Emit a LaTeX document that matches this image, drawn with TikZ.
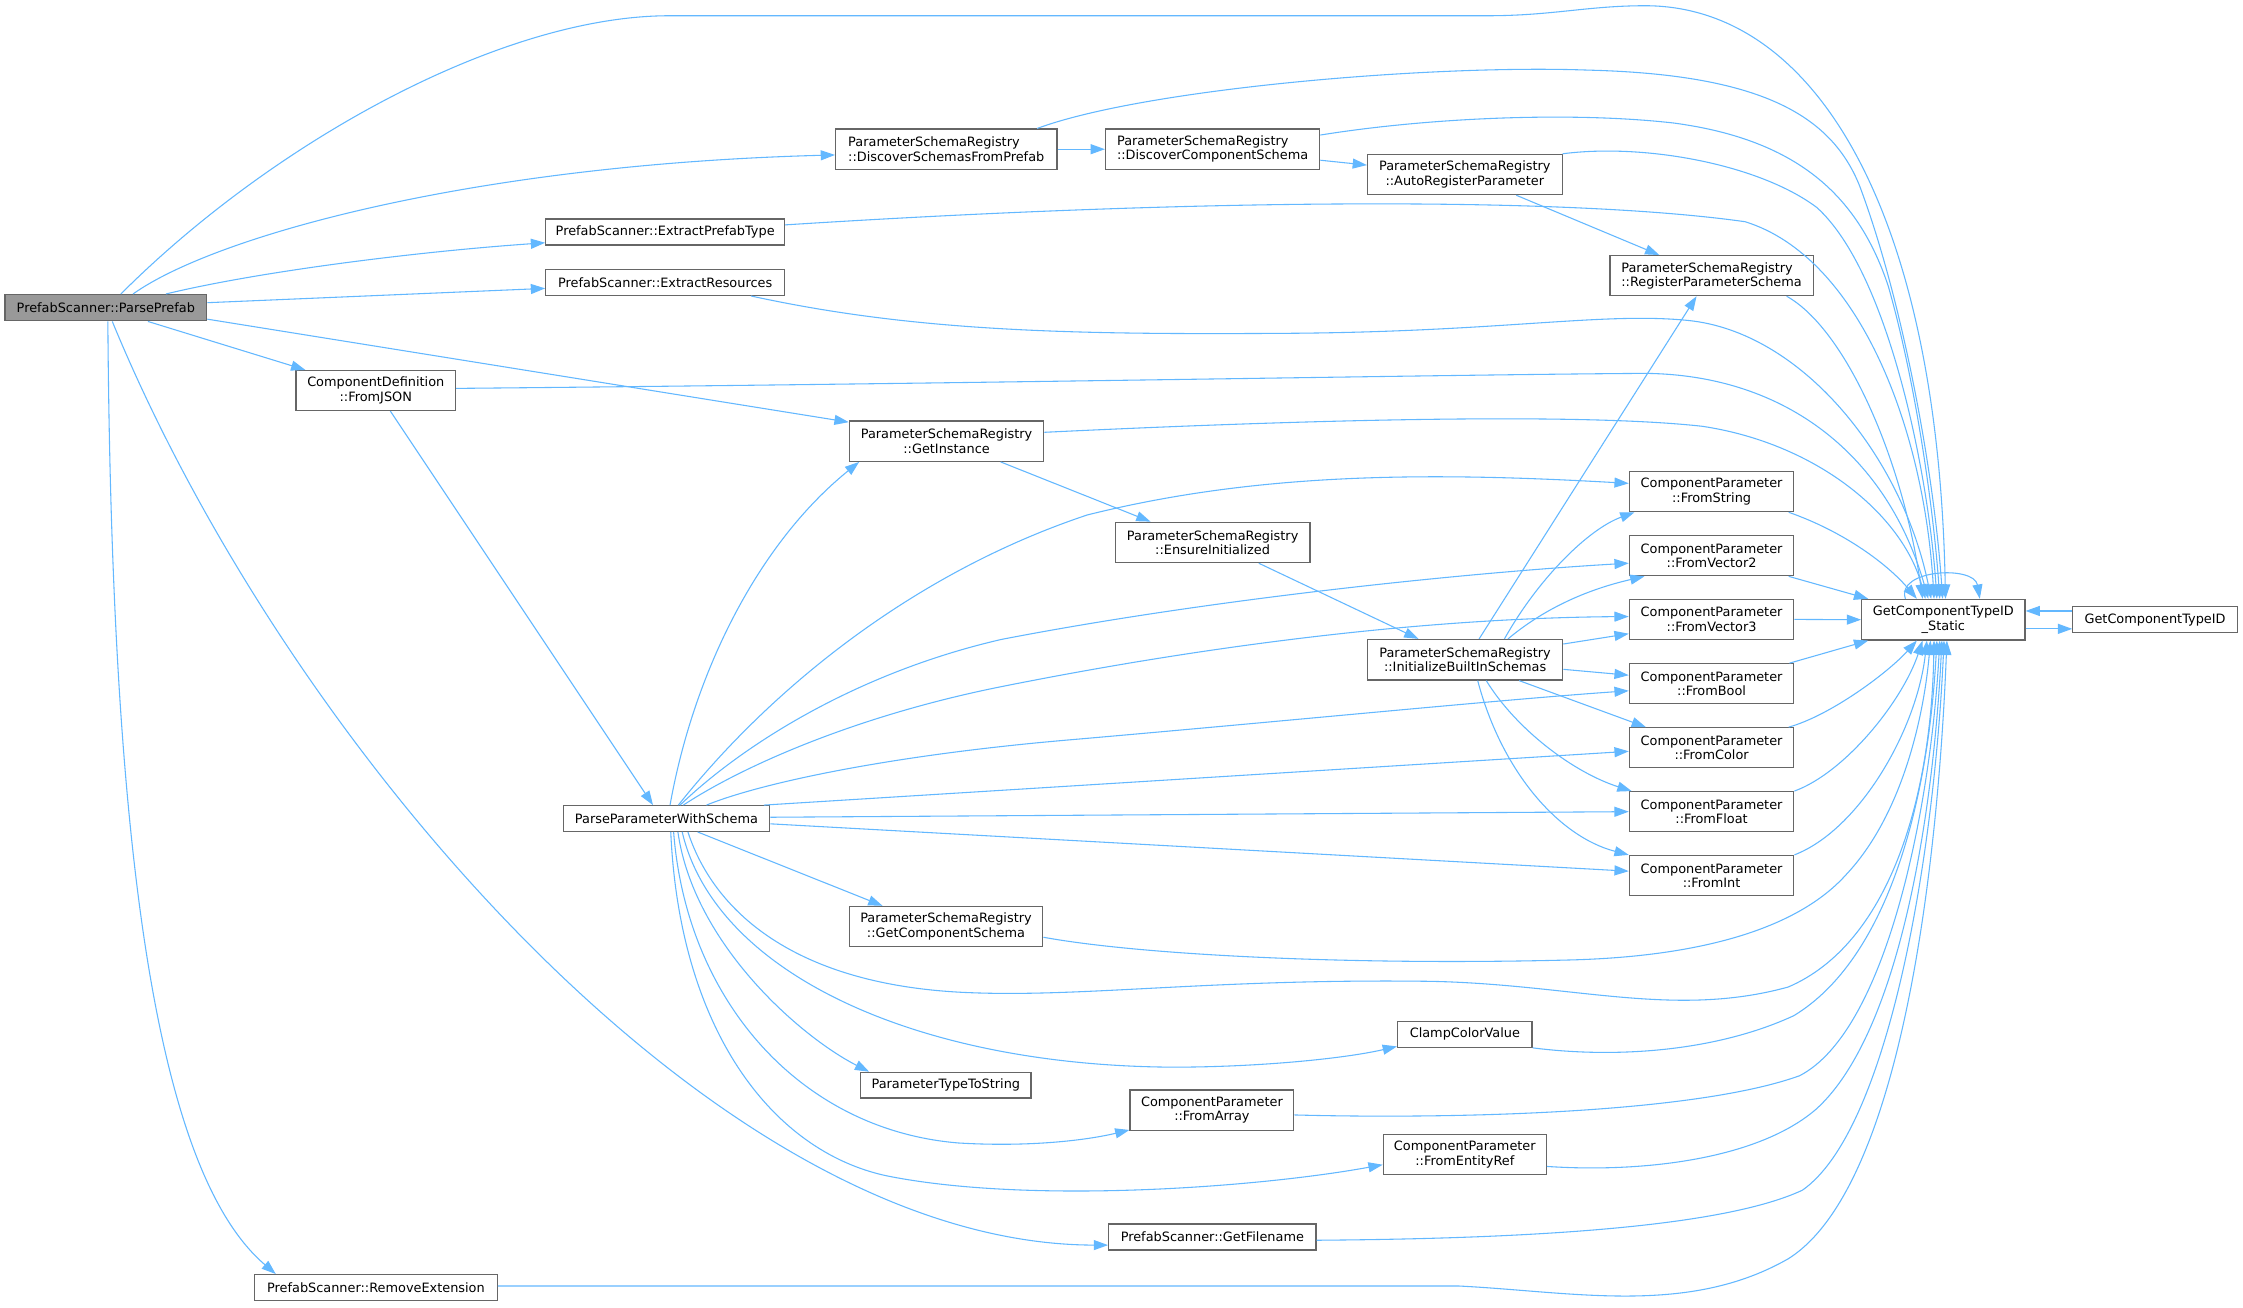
\documentclass[tikz,border=0pt]{standalone}
\usepackage{fontspec}
\setmainfont{DejaVu Sans}
\usetikzlibrary{arrows.meta}
\definecolor{edgec}{HTML}{63B8FF}
\definecolor{boxc}{HTML}{666666}
\definecolor{rootc}{HTML}{999999}
\begin{document}
\begin{tikzpicture}[x=1pt,y=-1pt,
  box/.style={draw=boxc, fill=white, line width=0.8pt, inner sep=0pt, align=center,
    font=\fontsize{9}{10}\selectfont},
  lbox/.style={box, align=left},
  root/.style={box, fill=rootc},
  edge/.style={draw=edgec, line width=0.75pt, -{Triangle[length=10pt,width=7pt]}}]
\useasboundingbox (0,0) rectangle (1568,913.7);
\fill[white] (0,0) rectangle (1568,913.7);

% ---------- nodes ----------
\node[root, minimum width=141pt, minimum height=18.4pt] (pp) at (74,215.1) {PrefabScanner::ParsePrefab};
\node[lbox, minimum width=154.7pt, minimum height=28.2pt] (dsfp) at (661.5,104.3) {ParameterSchemaRegistry\\::DiscoverSchemasFromPrefab};
\node[lbox, minimum width=149.8pt, minimum height=28.2pt] (dcs) at (847.7,104.3) {ParameterSchemaRegistry\\::DiscoverComponentSchema};
\node[box, minimum width=136pt, minimum height=28.2pt] (arp) at (1024,122) {ParameterSchemaRegistry\\::AutoRegisterParameter};
\node[box, minimum width=167pt, minimum height=18.2pt] (ept) at (465,162.2) {PrefabScanner::ExtractPrefabType};
\node[box, minimum width=167pt, minimum height=18.2pt] (er) at (465,197.4) {PrefabScanner::ExtractResources};
\node[lbox, minimum width=142pt, minimum height=28pt] (rps) at (1196.5,192.7) {ParameterSchemaRegistry\\::RegisterParameterSchema};
\node[box, minimum width=111.6pt, minimum height=28pt] (fj) at (262.7,273) {ComponentDefinition\\::FromJSON};
\node[box, minimum width=136pt, minimum height=28.2pt] (gi) at (661.7,308.4) {ParameterSchemaRegistry\\::GetInstance};
\node[box, minimum width=136.2pt, minimum height=28.3pt] (ei) at (847.7,379.2) {ParameterSchemaRegistry\\::EnsureInitialized};
\node[box, minimum width=115pt, minimum height=28pt] (fs) at (1196.5,343.7) {ComponentParameter\\::FromString};
\node[box, minimum width=115pt, minimum height=28pt] (fv2) at (1196.5,388.5) {ComponentParameter\\::FromVector2};
\node[box, minimum width=115pt, minimum height=28pt] (fv3) at (1196.5,433) {ComponentParameter\\::FromVector3};
\node[box, minimum width=115pt, minimum height=28pt] (fb) at (1196.5,478) {ComponentParameter\\::FromBool};
\node[box, minimum width=115pt, minimum height=28pt] (fc) at (1196.5,522.7) {ComponentParameter\\::FromColor};
\node[box, minimum width=115pt, minimum height=28pt] (ff) at (1196.5,567.4) {ComponentParameter\\::FromFloat};
\node[box, minimum width=115pt, minimum height=28pt] (fi) at (1196.5,612) {ComponentParameter\\::FromInt};
\node[box, minimum width=114.2pt, minimum height=28.4pt] (gs) at (1358.5,433.2) {GetComponentTypeID\\\_Static};
\node[box, minimum width=115pt, minimum height=18.3pt] (gid) at (1506.5,433.2) {GetComponentTypeID};
\node[box, minimum width=136.5pt, minimum height=28.4pt] (ibs) at (1024.2,461.2) {ParameterSchemaRegistry\\::InitializeBuiltInSchemas};
\node[box, minimum width=144.4pt, minimum height=18pt] (ppws) at (465.9,572.2) {ParseParameterWithSchema};
\node[box, minimum width=135.5pt, minimum height=28.2pt] (gcs) at (661.3,647.7) {ParameterSchemaRegistry\\::GetComponentSchema};
\node[box, minimum width=94pt, minimum height=18pt] (ccv) at (1024,723.1) {ClampColorValue};
\node[box, minimum width=119pt, minimum height=18pt] (ptts) at (661.2,758.6) {ParameterTypeToString};
\node[box, minimum width=114.5pt, minimum height=28pt] (fa) at (847.2,776) {ComponentParameter\\::FromArray};
\node[box, minimum width=114pt, minimum height=28pt] (fer) at (1024,807) {ComponentParameter\\::FromEntityRef};
\node[box, minimum width=145pt, minimum height=18.2pt] (gf) at (847.5,864.7) {PrefabScanner::GetFilename};
\node[box, minimum width=169.6pt, minimum height=18pt] (rex) at (262.8,900) {PrefabScanner::RemoveExtension};

% ---------- edges from ParsePrefab ----------
\draw[edge] ([xshift=10.5pt]pp.north) .. controls (190,100) and (350,11) .. (468,11) -- (1040,11)
  .. controls (1085,11) and (1110,4) .. (1150,4) .. controls (1270,4) and (1355,150) .. ([xshift=1.5pt]gs.north);
\draw[edge] ([xshift=19pt]pp.north) .. controls (150,165) and (330,115) .. ([yshift=-4pt]dsfp.west);
\draw[edge] ([xshift=42pt]pp.north) .. controls (180,190) and (290,176) .. ([yshift=-7.5pt]ept.west);
\draw[edge] ([yshift=3.5pt]pp.east) -- ([yshift=-4.2pt]er.west);
\draw[edge] ([xshift=29.4pt]pp.south) -- ([xshift=7pt]fj.north west);
\draw[edge] ([yshift=-8pt]pp.east) -- ([yshift=-1.2pt]gi.north west);
\draw[edge] ([xshift=4.5pt]pp.south) .. controls (200,520) and (500,870) .. ([yshift=-5.7pt]gf.west);
\draw[edge] ([xshift=1.4pt]pp.south) .. controls (78,600) and (110,820) .. ([xshift=-70pt]rex.north);

% ---------- FromJSON ----------
\draw[edge] ([xshift=10.2pt]fj.south) -- ([xshift=-9.4pt]ppws.north);
\draw[edge] ([yshift=1.5pt]fj.east) .. controls (700,268) and (1000,262) .. (1150,261)
  .. controls (1250,262) and (1320,320) .. ([xshift=-10.5pt]gs.north);

% ---------- upper group ----------
\draw[edge] ([yshift=5pt]ept.east) .. controls (850,138) and (1100,138) .. (1220,155)
  .. controls (1300,180) and (1345,300) .. ([xshift=-6.5pt]gs.north);
\draw[edge] ([xshift=60pt]er.south) .. controls (640,232) and (750,234) .. (900,233)
  .. controls (1050,232) and (1120,218) .. (1180,224)
  .. controls (1260,232) and (1330,320) .. ([xshift=-8.5pt]gs.north);
\draw[edge] ([xshift=63.5pt]dsfp.north) .. controls (800,62) and (1000,45) .. (1110,49)
  .. controls (1230,52) and (1280,80) .. (1300,130)
  .. controls (1330,210) and (1352,330) .. ([xshift=-0.5pt]gs.north);
\draw[edge] (dsfp.east) -- (dcs.west);
\draw[edge] ([yshift=9.9pt]dcs.east) .. controls (1000,82) and (1100,78) .. (1170,86)
  .. controls (1260,98) and (1300,140) .. (1320,200)
  .. controls (1340,270) and (1352,360) .. ([xshift=-2.5pt]gs.north);
\draw[edge] ([yshift=-7.7pt]dcs.east) -- ([yshift=6.6pt]arp.west);
\draw[edge] (arp.north east) .. controls (1150,100) and (1230,115) .. (1270,145)
  .. controls (1320,190) and (1348,330) .. ([xshift=-4.5pt]gs.north);
\draw[edge] ([xshift=36pt]arp.south) -- ([xshift=-36.5pt]rps.north);
\draw[edge] ([xshift=52.5pt]rps.south) .. controls (1290,230) and (1330,320) .. ([xshift=-14.5pt]gs.north);
\draw[edge] ([yshift=6.2pt]gi.east) .. controls (900,294) and (1100,288) .. (1190,298)
  .. controls (1270,310) and (1330,360) .. ([xshift=-12.5pt]gs.north);
\draw[edge] ([xshift=37.8pt]gi.south) -- ([xshift=-43.4pt]ei.north);
\draw[edge] ([xshift=32.3pt]ei.south) -- ([xshift=-32.6pt]ibs.north);

% ---------- InitializeBuiltInSchemas ----------
\draw[edge] ([xshift=9.8pt]ibs.north) -- ([xshift=-10.5pt]rps.south);
\draw[edge] ([xshift=27.5pt]ibs.north) .. controls (1075,405) and (1110,370) .. ([xshift=4pt]fs.south west);
\draw[edge] ([xshift=30pt]ibs.north) .. controls (1080,425) and (1110,412) .. ([xshift=11pt]fv2.south west);
\draw[edge] ([yshift=11pt]ibs.east) -- ([yshift=-10pt]fv3.west);
\draw[edge] ([yshift=-6.7pt]ibs.east) -- ([yshift=6pt]fb.west);
\draw[edge] ([xshift=37.8pt]ibs.south) -- ([xshift=12pt]fc.north west);
\draw[edge] ([xshift=14.8pt]ibs.south) .. controls (1060,510) and (1100,540) .. ([xshift=2pt]ff.north west);
\draw[edge] ([xshift=8.8pt]ibs.south) .. controls (1050,540) and (1090,585) .. (fi.north west);

% ---------- ComponentParameter -> GetComponentTypeID_Static ----------
\draw[edge] ([xshift=-4pt]fs.south east) .. controls (1290,372) and (1320,395) .. ([xshift=-18.5pt]gs.north);
\draw[edge] ([xshift=-4pt]fv2.south east) -- ([xshift=5pt]gs.north west);
\draw[edge] (fv3.east) -- (gs.west);
\draw[edge] ([xshift=-3.5pt]fb.north east) -- ([xshift=5pt]gs.south west);
\draw[edge] ([xshift=-4pt]fc.north east) .. controls (1280,500) and (1320,470) .. ([xshift=-18.5pt]gs.south);
\draw[edge] (ff.north east) .. controls (1290,540) and (1330,490) .. ([xshift=-14.5pt]gs.south);
\draw[edge] (fi.north east) .. controls (1300,580) and (1340,510) .. ([xshift=-11.5pt]gs.south);

% ---------- self loop and GetComponentTypeID ----------
\draw[edge] ([xshift=-26.5pt]gs.north) .. controls (1325,398) and (1380,395) .. ([xshift=25.5pt]gs.north);
\draw[edge] ([yshift=6.1pt]gid.west) -- ([yshift=6.1pt]gs.east);
\draw[edge] ([yshift=-6.4pt]gs.east) -- ([yshift=-6.4pt]gid.west);

% ---------- ParseParameterWithSchema ----------
\draw[edge] ([xshift=2.5pt]ppws.north) .. controls (485,470) and (530,380) .. ([xshift=7.3pt]gi.south west);
\draw[edge] ([xshift=8.3pt]ppws.north) .. controls (540,480) and (640,400) .. (760,360)
  .. controls (880,330) and (1000,330) .. ([yshift=5.8pt]fs.west);
\draw[edge] ([xshift=9.5pt]ppws.north) .. controls (520,520) and (600,470) .. (700,447)
  .. controls (850,418) and (1030,400) .. ([yshift=-5.2pt]fv2.west);
\draw[edge] ([xshift=11.8pt]ppws.north) .. controls (520,535) and (600,500) .. (700,480)
  .. controls (850,450) and (1000,432) .. ([yshift=2pt]fv3.west);
\draw[edge] ([xshift=28pt]ppws.north) .. controls (530,548) and (620,528) .. (750,517)
  .. controls (900,504) and (1050,489) .. ([yshift=-4.9pt]fb.west);
\draw[edge] ([xshift=-4.5pt]ppws.north east) -- ([yshift=-2.5pt]fc.west);
\draw[edge] ([yshift=0.9pt]ppws.east) -- (ff.west);
\draw[edge] ([yshift=-3.7pt]ppws.east) -- ([yshift=3pt]fi.west);
\draw[edge] ([xshift=21.8pt]ppws.south) -- ([xshift=23.8pt]gcs.north west);
\draw[edge] ([xshift=15pt]ppws.south) .. controls (500,640) and (560,690) .. (680,694)
  .. controls (760,697) and (850,684) .. (1000,686)
  .. controls (1100,688) and (1170,712) .. (1250,690)
  .. controls (1320,660) and (1350,560) .. ([xshift=-6.5pt]gs.south);
\draw[edge] ([xshift=11pt]ppws.south) .. controls (500,680) and (640,745) .. (820,746)
  .. controls (880,746) and (940,740) .. ([yshift=1pt]ccv.south west);
\draw[edge] ([xshift=8pt]ppws.south) .. controls (485,660) and (560,725) .. ([xshift=6.3pt]ptts.north west);
\draw[edge] ([xshift=5pt]ppws.south) .. controls (480,700) and (560,790) .. (670,799)
  .. controls (720,802) and (760,797) .. ([yshift=0.5pt]fa.south west);
\draw[edge] ([xshift=3pt]ppws.south) .. controls (475,720) and (540,805) .. (620,822)
  .. controls (720,842) and (880,830) .. ([yshift=-7.2pt]fer.west);

% ---------- lower group -> GetComponentTypeID_Static ----------
\draw[edge] ([yshift=-7.5pt]gcs.east) .. controls (800,668) and (950,675) .. (1100,671)
  .. controls (1200,668) and (1260,645) .. (1290,612)
  .. controls (1330,570) and (1345,500) .. ([xshift=-9pt]gs.south);
\draw[edge] (ccv.south east) .. controls (1130,740) and (1200,735) .. (1254,710)
  .. controls (1320,670) and (1348,560) .. ([xshift=-4.5pt]gs.south);
\draw[edge] ([yshift=-3.4pt]fa.east) .. controls (1000,782) and (1180,780) .. (1258,752)
  .. controls (1320,720) and (1350,560) .. ([xshift=-2.5pt]gs.south);
\draw[edge] ([yshift=-8.4pt]fer.east) .. controls (1150,820) and (1230,810) .. (1270,775)
  .. controls (1330,720) and (1352,560) .. ([xshift=-1pt]gs.south);
\draw[edge] ([yshift=-2.3pt]gf.east) .. controls (1050,866) and (1200,860) .. (1260,832)
  .. controls (1320,790) and (1352,600) .. ([xshift=0.5pt]gs.south);
\draw[edge] ([yshift=1pt]rex.east) -- (1020,899) .. controls (1100,903) and (1180,920) .. (1250,880)
  .. controls (1330,830) and (1355,600) .. ([xshift=2.5pt]gs.south);
\end{tikzpicture}
\end{document}
